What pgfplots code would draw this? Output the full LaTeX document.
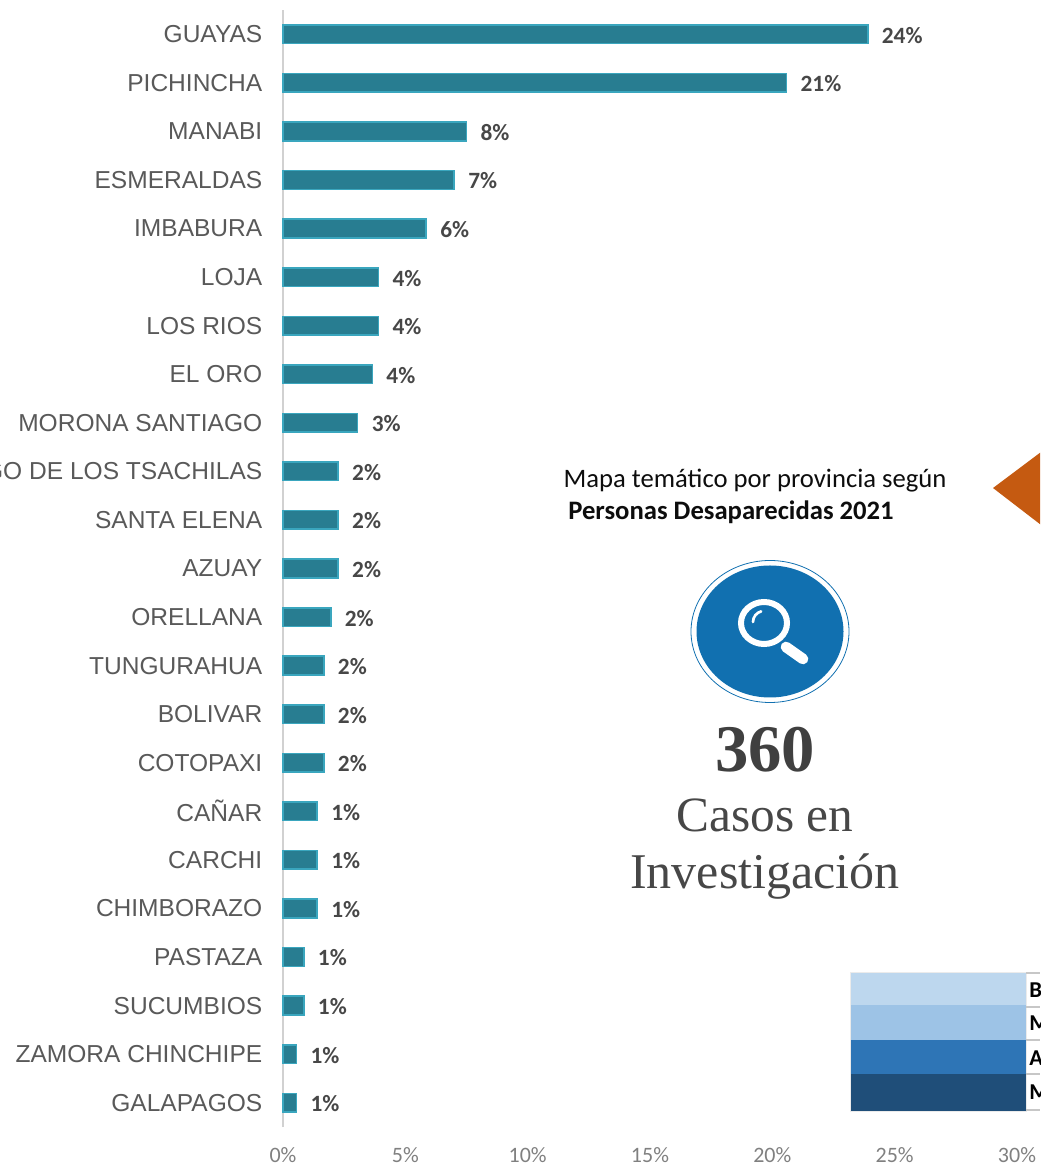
\documentclass[border=0pt]{standalone}
\usepackage{fontspec}
\usepackage{pgfplots}
\pgfplotsset{compat=1.18}
\setmainfont{Liberation Sans}
\newfontfamily\carlito{Carlito}
\newfontfamily\serifcas{Liberation Serif}
\definecolor{barfill}{HTML}{287D91}
\definecolor{barline}{HTML}{3AA6BE}
\definecolor{circ}{HTML}{1170B0}
\definecolor{tri}{HTML}{C55A11}
\definecolor{la}{HTML}{BDD7EE}
\definecolor{lb}{HTML}{9DC3E6}
\definecolor{lc}{HTML}{2E75B6}
\definecolor{ld}{HTML}{1F4E79}
\begin{document}
\begin{tikzpicture}
\clip[use as bounding box] (0pt,0pt) rectangle (780pt,873pt);
\begin{axis}[
  at={(212.25pt,27.75pt)}, anchor=south west,
  scale only axis, width=550.5pt, height=837.75pt,
  xmin=0, xmax=30, ymin=-0.5, ymax=22.5,
  axis y line=left, axis x line=bottom,
  axis line style={-},
  x axis line style={draw=none},
  y axis line style={draw=black!18, line width=1.1pt},
  major tick length=0pt,
  xtick={0,5,10,15,20,25,30},
  xticklabels={0\%,5\%,10\%,15\%,20\%,25\%,30\%},
  xticklabel style={font=\carlito\fontsize{16.5}{16.5}\selectfont, text=black!50, yshift=-12pt},
  ytick={0,...,22},
  yticklabels={GALAPAGOS,ZAMORA CHINCHIPE,SUCUMBIOS,PASTAZA,CHIMBORAZO,CARCHI,CAÑAR,COTOPAXI,BOLIVAR,TUNGURAHUA,ORELLANA,AZUAY,SANTA ELENA,SANTO DOMINGO DE LOS TSACHILAS,MORONA SANTIAGO,EL ORO,LOS RIOS,LOJA,IMBABURA,ESMERALDAS,MANABI,PICHINCHA,GUAYAS},
  yticklabel style={font=\fontsize{18.4}{18.4}\selectfont, text=black!65, anchor=east, xshift=-12pt},
  clip=false,
]
\addplot[xbar, bar width=14pt, bar shift=0pt, fill=barfill, draw=barline, line width=1.2pt,
  point meta=explicit symbolic,
  nodes near coords={\pgfplotspointmeta\%},
  nodes near coords align={anchor=west},
  every node near coord/.append style={font=\carlito\bfseries\fontsize{17.5}{17.5}\selectfont, text=black!72, inner sep=0pt, xshift=10pt, yshift=-0.75pt},
] table[x=v, y=p, meta=l] {
p v l
22 23.9 24
21 20.58 21
20 7.5 8
19 7.0 7
18 5.85 6
17 3.9 4
16 3.9 4
15 3.65 4
14 3.05 3
13 2.25 2
12 2.25 2
11 2.25 2
10 1.95 2
9 1.67 2
8 1.67 2
7 1.67 2
6 1.4 1
5 1.4 1
4 1.4 1
3 0.85 1
2 0.85 1
1 0.55 1
0 0.55 1
};
\end{axis}
\begin{scope}[x=0.75pt,y=-0.75pt,yshift=873pt]
\node[font=\carlito\fontsize{20}{20}\selectfont, text=black!95, anchor=base] at (755,488) {Mapa temático por provincia según};
\node[font=\carlito\bfseries\fontsize{20}{20}\selectfont, text=black!95, anchor=base] at (731,520) {Personas Desaparecidas 2021};
\fill[tri] (993,488) -- (1045,449) -- (1045,528) -- cycle;
\draw[circ, line width=0.6pt] (770,631.5) ellipse [x radius=79, y radius=71];
\fill[circ] (770,631.5) ellipse [x radius=73.5, y radius=66];
\draw[white, line width=4.5pt] (764,623) ellipse [x radius=23, y radius=21];
\draw[white, line width=8pt, line cap=round] (786,647) -- (803,659);
\draw[white, line width=2pt, line cap=round] (753,622) arc[start angle=180, end angle=255, x radius=11, y radius=11];
\node[font=\serifcas\bfseries\fontsize{50}{50}\selectfont, text=black!75, anchor=base] at (765,772) {360};
\node[font=\serifcas\fontsize{37}{37}\selectfont, text=black!72, anchor=base] at (765,832) {Casos en};
\node[font=\serifcas\fontsize{37.5}{37.5}\selectfont, text=black!72, anchor=base] at (765,889) {Investigación};
\fill[black!8] (850,972) rectangle (1027,1112);
\fill[la] (851,973) rectangle (1026,1005);
\fill[lb] (851,1005) rectangle (1026,1040);
\fill[lc] (851,1040) rectangle (1026,1074);
\fill[ld] (851,1074) rectangle (1026,1111);
\foreach \yy in {973,1007,1040,1074,1110} \draw[black!22, line width=0.8pt] (1026,\yy) -- (1040,\yy);
\foreach \yy/\tt in {990/B,1023/M,1058/A,1092/M}
  \node[font=\carlito\bfseries\fontsize{17}{17}\selectfont, text=black, anchor=west, inner sep=0pt] at (1029,\yy) {\tt};
\end{scope}
\end{tikzpicture}
\end{document}
